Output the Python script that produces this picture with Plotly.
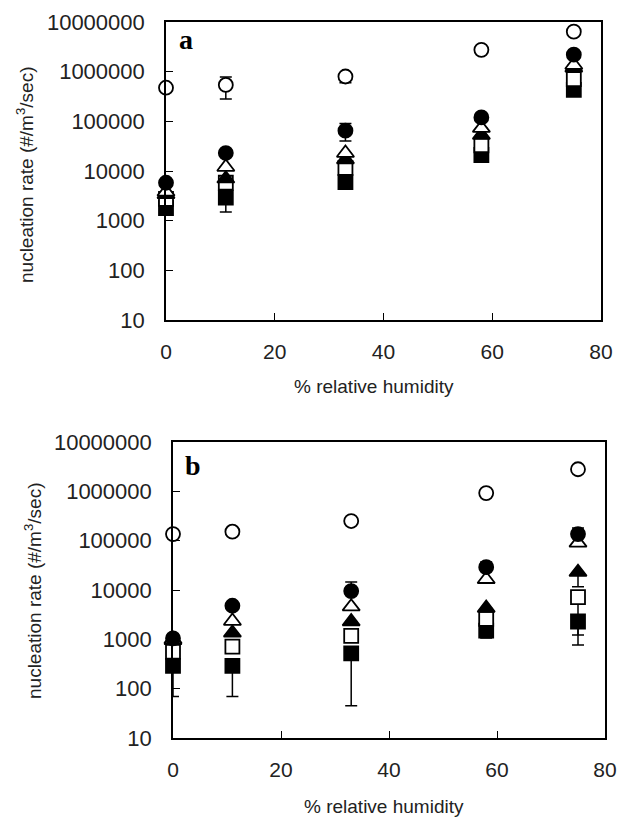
import plotly.graph_objects as go

rh = [0, 11, 33, 58, 75]

# Panel a values
a_open_circle = [475000, 540000, 800000, 2750000, 6400000]
a_filled_circle = [5800, 23000, 65000, 120000, 2200000]
a_open_triangle = [3800, 12000, 23000, 73000, 1360000]
a_filled_triangle = [3400, 7000, 17000, 53000, 1200000]
a_open_square = [2750, 5800, 11500, 33000, 710000]
a_filled_square = [1800, 2900, 6000, 21000, 430000]

# Panel a error bar ends (None = no bar)
a_open_circle_hi = [None, 780000, 950000, None, None]
a_open_circle_lo = [None, 280000, 600000, None, None]
a_filled_circle_hi = [None, None, 90000, None, None]
a_filled_circle_lo = [None, None, 40000, None, None]
a_filled_square_lo = [None, 1500, None, None, None]

# Panel b values
b_open_circle = [136000, 152000, 250000, 920000, 2800000]
b_filled_circle = [1050, 4800, 9500, 29000, 136000]
b_open_triangle = [1000, 2350, 4600, 16500, 90000]
b_filled_triangle = [950, 1350, 2300, 4300, 23000]
b_open_square = [560, 710, 1170, 2600, 7200]
b_filled_square = [290, 290, 520, 1500, 2300]

# Panel b error bar ends
b_filled_circle_hi = [None, None, 14500, 37000, 180000]
b_filled_triangle_lo = [None, None, None, None, 11700]
b_open_square_lo = [None, None, None, None, 1230]
b_filled_square_lo = [69, 69, 45, 1070, 770]

ytick_vals = [10, 100, 1000, 10000, 100000, 1000000, 10000000]
ytick_text = ["10", "100", "1000", "10000", "100000", "1000000", "10000000"]

FONT = "Arial, Liberation Sans, sans-serif"


def err(vals, hi=None, lo=None):
    up = [0 if (hi is None or hi[i] is None) else hi[i] - v for i, v in enumerate(vals)]
    dn = [0 if (lo is None or lo[i] is None) else v - lo[i] for i, v in enumerate(vals)]
    return dict(type="data", symmetric=False, array=up, arrayminus=dn,
                color="black", thickness=1.5, width=6, visible=True)


def add(fig, xa, ya, vals, symbol, filled, hi=None, lo=None):
    fig.add_trace(go.Scatter(
        x=rh, y=vals, mode="markers", xaxis=xa, yaxis=ya,
        marker=dict(symbol=symbol, size=14 if symbol != "triangle-up" else 15,
                    color="black" if filled else "white",
                    line=dict(color="black", width=1.8)),
        error_y=err(vals, hi, lo), cliponaxis=False, showlegend=False))


fig = go.Figure()

add(fig, "x", "y", a_filled_square, "square", True, lo=a_filled_square_lo)
add(fig, "x", "y", a_open_square, "square", False)
add(fig, "x", "y", a_filled_triangle, "triangle-up", True)
add(fig, "x", "y", a_open_triangle, "triangle-up", False)
add(fig, "x", "y", a_filled_circle, "circle", True, hi=a_filled_circle_hi, lo=a_filled_circle_lo)
add(fig, "x", "y", a_open_circle, "circle", False, hi=a_open_circle_hi, lo=a_open_circle_lo)

add(fig, "x2", "y2", b_filled_square, "square", True, lo=b_filled_square_lo)
add(fig, "x2", "y2", b_open_square, "square", False, lo=b_open_square_lo)
add(fig, "x2", "y2", b_filled_triangle, "triangle-up", True, lo=b_filled_triangle_lo)
add(fig, "x2", "y2", b_open_triangle, "triangle-up", False)
add(fig, "x2", "y2", b_filled_circle, "circle", True, hi=b_filled_circle_hi)
add(fig, "x2", "y2", b_open_circle, "circle", False)

xcommon = dict(range=[0, 80], tickvals=[0, 20, 40, 60, 80], ticks="inside", ticklen=7,
               tickwidth=1.2, tickcolor="black", showline=True, linecolor="black",
               linewidth=1.6, mirror=True, showgrid=False, zeroline=False,
               automargin=False, ticklabelstandoff=12,
               tickfont=dict(family=FONT, size=21, color="#222"))
ycommon = dict(type="log", range=[1, 7], tickvals=ytick_vals, ticktext=ytick_text,
               ticks="inside", ticklen=7, tickwidth=1.2, tickcolor="black",
               showline=True, linecolor="black", linewidth=1.6, mirror=True,
               showgrid=False, zeroline=False, automargin=False, ticklabelstandoff=15,
               tickfont=dict(family=FONT, size=22, color="#222"))

fig.update_layout(
    width=619, height=817, margin=dict(l=0, r=0, t=0, b=0, autoexpand=False),
    paper_bgcolor="white", plot_bgcolor="white",
    xaxis=dict(domain=[166 / 619, 601 / 619], anchor="y", **xcommon),
    yaxis=dict(domain=[1 - 320 / 817, 1 - 22 / 817], anchor="x", **ycommon),
    xaxis2=dict(domain=[173 / 619, 605 / 619], anchor="y2", **xcommon),
    yaxis2=dict(domain=[1 - 738 / 817, 1 - 442 / 817], anchor="x2", **ycommon),
)

ann = []
for (xc, yc) in [(25, 175), (33, 591)]:
    ann.append(dict(text="nucleation rate (#/m<sup>3</sup>/sec)", x=xc / 619, y=1 - yc / 817,
                    xref="paper", yref="paper", textangle=-90, showarrow=False,
                    font=dict(family=FONT, size=19, color="#222"),
                    xanchor="center", yanchor="middle"))
for (xc, yc) in [(374, 387), (384, 806)]:
    ann.append(dict(text="% relative humidity", x=xc / 619, y=1 - yc / 817,
                    xref="paper", yref="paper", showarrow=False,
                    font=dict(family=FONT, size=19, color="#222"),
                    xanchor="center", yanchor="middle"))
for (t, xc, yc) in [("a", 186, 40), ("b", 193, 465)]:
    ann.append(dict(text="<b>" + t + "</b>", x=xc / 619, y=1 - yc / 817,
                    xref="paper", yref="paper", showarrow=False,
                    font=dict(family="Liberation Serif, Times New Roman, serif", size=28, color="black"),
                    xanchor="center", yanchor="middle"))
fig.update_layout(annotations=ann)

fig.write_html("out.html", config={"displayModeBar": False},
               post_script="document.body.style.margin='0';document.body.style.overflow='hidden';")
